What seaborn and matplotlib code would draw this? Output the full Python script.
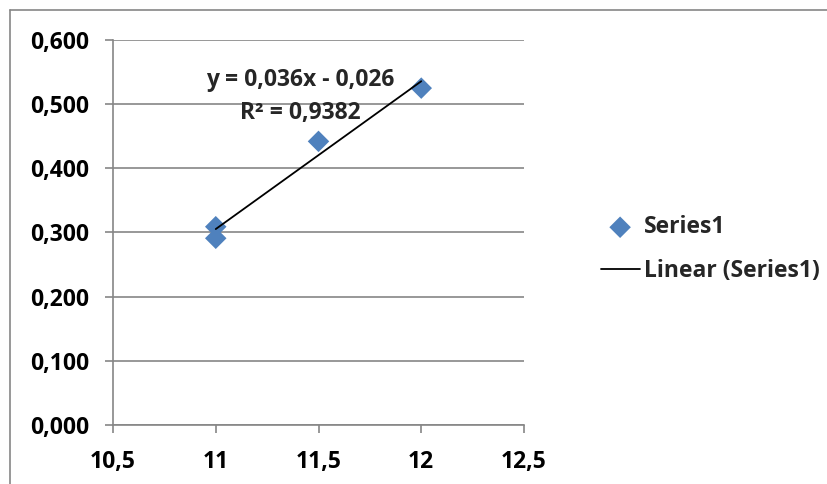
import numpy as np
import pandas as pd
import matplotlib
matplotlib.use("Agg")
import matplotlib.pyplot as plt
import seaborn as sns
from matplotlib.lines import Line2D

# Data
x_vals = [11, 11, 11.5, 12]
y_vals = [0.309, 0.291, 0.442, 0.525]

x_ticks = [10.5, 11, 11.5, 12, 12.5]
x_tick_labels = ["10,5", "11", "11,5", "12", "12,5"]
y_ticks = [0.0, 0.1, 0.2, 0.3, 0.4, 0.5, 0.6]
y_tick_labels = ["0,000", "0,100", "0,200", "0,300", "0,400", "0,500", "0,600"]

equation_text = "y = 0,036x - 0,026\nR² = 0,9382"

data = pd.DataFrame({"x": x_vals, "y": y_vals})

# Linear trendline through the points
slope, intercept = np.polyfit(data["x"], data["y"], 1)
trend = pd.DataFrame({"x": [min(x_vals), max(x_vals)]})
trend["y"] = slope * trend["x"] + intercept

sns.set_style("white")
plt.rcParams["font.family"] = ["Open Sans", "DejaVu Sans"]
plt.rcParams["font.weight"] = "bold"

grey = "#868686"
blue = "#4F81BD"
fs = 16.5

fig = plt.figure(figsize=(8.28, 4.84), dpi=100)
ax = fig.add_axes([113 / 828, 1 - 425 / 484, (524 - 113) / 828, (425 - 40) / 484])

sns.scatterplot(data=data, x="x", y="y", marker="D", s=120, color=blue,
                edgecolor="none", label="Series1", ax=ax, zorder=3)
sns.lineplot(data=trend, x="x", y="y", color="black", linewidth=1.3,
             label="Linear (Series1)", ax=ax, zorder=4)

ax.set_xlim(10.5, 12.5)
ax.set_ylim(0, 0.6)
ax.set_xticks(x_ticks)
ax.set_xticklabels(x_tick_labels)
ax.set_yticks(y_ticks)
ax.set_yticklabels(y_tick_labels)
ax.set_xlabel("")
ax.set_ylabel("")

ax.yaxis.grid(True, color=grey, linewidth=1.2)
ax.set_axisbelow(True)
for side in ["top", "right"]:
    ax.spines[side].set_visible(False)
for side in ["left", "bottom"]:
    ax.spines[side].set_color(grey)
    ax.spines[side].set_linewidth(1.2)

ax.tick_params(axis="both", colors=grey, length=6, width=1.2,
               labelcolor="black", labelsize=fs)
ax.tick_params(axis="y", left=True, pad=11)
ax.tick_params(axis="x", bottom=True, pad=12)
for lab in ax.get_xticklabels() + ax.get_yticklabels():
    lab.set_fontweight("bold")

ax.text(11.41, 0.467, equation_text, ha="center", va="bottom",
        fontsize=fs, fontweight="bold", linespacing=1.5)

leg = ax.legend(loc="center left", bbox_to_anchor=(580 / 828, 1 - 249 / 484),
                bbox_transform=fig.transFigure, frameon=False,
                prop={"size": fs, "weight": "bold"}, handlelength=1.7,
                handletextpad=0.2, labelspacing=0.85)

# Chart area border (top and left edges visible)
fig.add_artist(Line2D([10 / 828, 10 / 828], [0, 1 - 10 / 484],
                      color=grey, linewidth=1.2, transform=fig.transFigure))
fig.add_artist(Line2D([10 / 828, 1], [1 - 10 / 484, 1 - 10 / 484],
                      color=grey, linewidth=1.2, transform=fig.transFigure))

plt.savefig("out.png", dpi=100)
plt.close()
